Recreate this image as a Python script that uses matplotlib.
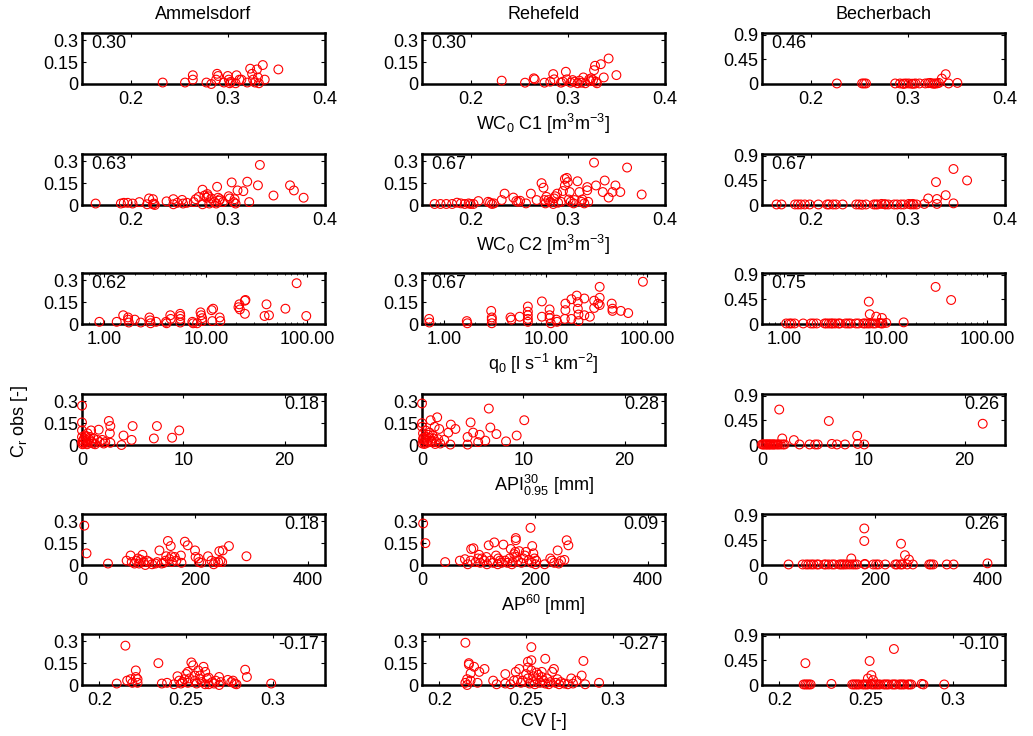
import matplotlib
matplotlib.use('Agg')
import matplotlib.pyplot as plt
from matplotlib.ticker import FixedLocator, FixedFormatter, LogLocator, NullFormatter

plt.rcParams['font.family'] = ['Liberation Sans', 'DejaVu Sans']
plt.rcParams['mathtext.fontset'] = 'custom'
plt.rcParams['mathtext.rm'] = 'Liberation Sans'
plt.rcParams['mathtext.it'] = 'Liberation Sans'
plt.rcParams['mathtext.default'] = 'regular'

# ---------------- data ----------------
catchments = ['Ammelsdorf', 'Rehefeld', 'Becherbach']
predictor_labels = [r'WC$_0$ C1 [m$^3$m$^{-3}$]', r'WC$_0$ C2 [m$^3$m$^{-3}$]',
                    r'q$_0$ [l s$^{-1}$ km$^{-2}$]', r'API$^{30}_{0.95}$ [mm]',
                    r'AP$^{60}$ [mm]', 'CV [-]']
corr_amm = ['0.30', '0.63', '0.62', '0.18', '0.18', '-0.17']
corr_reh = ['0.30', '0.67', '0.67', '0.28', '0.09', '-0.27']
corr_bec = ['0.46', '0.67', '0.75', '0.26', '0.26', '-0.10']
ylabel_text = r'C$_r$ obs [-]'

yticks_small = [0, 0.15, 0.3]
yticklabels_small = ['0', '0.15', '0.3']
yticks_large = [0, 0.45, 0.9]
yticklabels_large = ['0', '0.45', '0.9']

xticks_wc = [0.2, 0.3, 0.4]
xticklabels_wc = ['0.2', '0.3', '0.4']
xticks_q = [1, 10, 100]
xticklabels_q = ['1.00', '10.00', '100.00']
xticks_api = [0, 10, 20]
xticklabels_api = ['0', '10', '20']
xticks_ap = [0, 200, 400]
xticklabels_ap = ['0', '200', '400']
xticks_cv = [0.2, 0.25, 0.3]
xticklabels_cv = ['0.2', '0.25', '0.3']

# Ammelsdorf
amm_wc1_x = [0.233,0.256,0.264,0.264,0.278,0.283,0.288,0.289,0.290,0.296,0.300,0.301,0.302,0.303,0.308,0.309,0.312,0.314,0.320,0.323,0.325,0.326,0.328,0.330,0.331,0.332,0.336,0.338,0.352]
amm_wc1_y = [0.01,0.01,0.06,0.03,0.01,0.0,0.03,0.07,0.055,0.01,0.055,0.03,0.005,0.015,0.005,0.06,0.03,0.03,0.01,0.105,0.07,0.03,0.01,0.10,0.045,0.005,0.13,0.03,0.10]
amm_wc2_x = [0.164,0.19,0.193,0.197,0.202,0.209,0.217,0.219,0.223,0.223,0.224,0.225,0.237,0.244,0.244,0.248,0.253,0.254,0.258,0.265,0.267,0.27,0.274,0.274,0.276,0.278,0.279,0.28,0.281,0.283,0.286,0.288,0.289,0.29,0.291,0.292,0.295,0.301,0.302,0.304,0.306,0.307,0.308,0.31,0.316,0.32,0.322,0.331,0.333,0.347,0.364,0.368,0.378]
amm_wc2_y = [0.01,0.01,0.015,0.015,0.01,0.02,0.005,0.045,0.005,0.04,0.01,0.0,0.025,0.005,0.04,0.015,0.035,0.01,0.015,0.02,0.04,0.055,0.105,0.005,0.065,0.05,0.075,0.06,0.01,0.045,0.02,0.01,0.125,0.05,0.03,0.04,0.02,0.06,0.045,0.155,0.02,0.04,0.01,0.10,0.095,0.16,0.02,0.135,0.275,0.065,0.135,0.10,0.05]
amm_q_x = [0.89,1.32,1.53,1.71,1.71,1.74,1.99,2.28,2.78,2.82,2.85,3.23,4.05,4.1,4.46,4.5,5.58,5.6,5.6,5.6,7.36,7.5,8.2,8.87,9.0,9.2,9.2,11.4,11.8,11.6,13.7,13.9,21.0,21.4,21.7,24.3,24.6,24.3,38.0,39.7,42.0,61.0,78.7,98.0]
amm_q_y = [0.015,0.015,0.06,0.045,0.03,0.01,0.03,0.01,0.045,0.025,0.005,0.015,0.015,0.005,0.06,0.035,0.07,0.055,0.035,0.01,0.015,0.005,0.005,0.08,0.06,0.04,0.02,0.095,0.105,0.02,0.045,0.02,0.115,0.135,0.1,0.16,0.165,0.07,0.055,0.135,0.06,0.105,0.28,0.055]
amm_api_x = [0,0,0,0,0,0.15,0.3,0.4,0.55,0.65,0.8,0.9,1.0,1.15,1.3,1.5,1.65,1.75,2.0,2.15,2.3,2.65,2.8,2.75,2.8,3.9,4.1,4.9,5.0,7.1,7.4,8.9,9.6,0.05,0.1,0.2,0.35,0.5,0.7,1.1,0.45]
amm_api_y = [0.27,0.155,0.1,0.055,0.02,0.01,0.065,0.035,0.08,0.015,0.055,0.1,0.02,0.045,0.005,0.035,0.105,0.02,0.035,0.01,0.02,0.165,0.13,0.08,0.015,0.0,0.065,0.035,0.13,0.045,0.13,0.05,0.1,0.005,0.03,0.045,0.02,0.005,0.04,0.01,0.06]
amm_ap_x = [4,8,46,79,86,88,93,96,99,101,104,107,109,112,115,119,124,130,133,137,141,145,148,149,152,155,157,158,159,164,167,175,176,182,187,200,201,206,207,211,223,229,233,236,241,243,245,248,249,260,291]
amm_ap_y = [0.27,0.08,0.01,0.03,0.065,0.02,0.01,0.03,0.045,0.01,0.035,0.07,0.02,0.0,0.03,0.02,0.005,0.01,0.02,0.1,0.01,0.015,0.03,0.06,0.165,0.04,0.13,0.06,0.02,0.055,0.03,0.065,0.015,0.16,0.135,0.1,0.055,0.045,0.02,0.015,0.06,0.03,0.005,0.02,0.02,0.095,0.03,0.02,0.1,0.13,0.06]
amm_cv_x = [0.21,0.215,0.216,0.218,0.219,0.221,0.221,0.222,0.222,0.234,0.236,0.239,0.243,0.245,0.246,0.247,0.248,0.249,0.25,0.251,0.251,0.252,0.253,0.254,0.255,0.255,0.256,0.257,0.258,0.258,0.259,0.26,0.261,0.261,0.262,0.263,0.263,0.265,0.266,0.267,0.269,0.269,0.27,0.274,0.276,0.277,0.278,0.279,0.284,0.285,0.299]
amm_cv_y = [0.01,0.27,0.03,0.04,0.015,0.1,0.055,0.04,0.015,0.15,0.01,0.015,0.005,0.06,0.03,0.01,0.02,0.04,0.075,0.015,0.09,0.045,0.155,0.135,0.03,0.065,0.01,0.1,0.04,0.065,0.02,0.125,0.09,0.005,0.045,0.005,0.05,0.02,0.01,0.03,0.0,0.055,0.02,0.035,0.02,0.03,0.01,0.005,0.105,0.055,0.01]

# Rehefeld
reh_wc1_x = [0.232,0.256,0.265,0.266,0.276,0.282,0.285,0.286,0.293,0.295,0.298,0.299,0.303,0.305,0.307,0.310,0.312,0.314,0.316,0.318,0.322,0.323,0.324,0.326,0.327,0.329,0.330,0.328,0.334,0.337,0.342,0.350]
reh_wc1_y = [0.023,0.009,0.039,0.032,0.009,0.016,0.068,0.032,0.009,0.016,0.084,0.032,0.009,0.027,0.016,0.005,0.023,0.009,0.045,0.005,0.032,0.02,0.039,0.027,0.095,0.016,0.005,0.125,0.136,0.045,0.175,0.061]
reh_wc2_x = [0.163,0.169,0.175,0.181,0.186,0.19,0.194,0.198,0.2,0.203,0.208,0.218,0.22,0.222,0.224,0.232,0.235,0.244,0.247,0.249,0.251,0.257,0.262,0.268,0.273,0.275,0.276,0.277,0.278,0.28,0.282,0.285,0.286,0.287,0.289,0.29,0.293,0.295,0.297,0.297,0.299,0.3,0.301,0.302,0.303,0.306,0.307,0.31,0.312,0.314,0.315,0.317,0.32,0.32,0.321,0.327,0.329,0.336,0.338,0.342,0.346,0.349,0.354,0.361,0.376]
reh_wc2_y = [0.007,0.007,0.007,0.007,0.016,0.011,0.007,0.011,0.007,0.007,0.027,0.022,0.016,0.007,0.011,0.034,0.078,0.051,0.027,0.022,0.029,0.011,0.078,0.034,0.15,0.119,0.034,0.011,0.056,0.034,0.022,0.007,0.045,0.06,0.078,0.016,0.022,0.096,0.134,0.179,0.186,0.157,0.038,0.089,0.022,0.011,0.034,0.163,0.089,0.022,0.038,0.011,0.123,0.101,0.022,0.291,0.134,0.089,0.168,0.051,0.089,0.134,0.089,0.257,0.072]
reh_q_x = [0.705,0.71,1.66,1.68,2.89,2.93,2.93,2.93,4.48,4.58,5.52,6.65,6.65,6.65,6.65,6.65,9.15,9.15,10.9,10.9,10.9,11.2,12.7,12.9,15.4,15.6,15.6,17.9,17.9,20.2,20.7,20.7,21.0,21.0,24.0,24.0,27.2,30.0,30.0,32.8,34.0,34.0,34.0,44.7,45.5,45.5,55.0,65.0,90.8]
reh_q_y = [0.035,0.01,0.02,0.005,0.09,0.045,0.03,0.005,0.045,0.03,0.05,0.12,0.085,0.06,0.035,0.015,0.155,0.05,0.10,0.06,0.04,0.005,0.03,0.015,0.035,0.14,0.095,0.035,0.17,0.195,0.15,0.105,0.065,0.02,0.06,0.175,0.05,0.16,0.11,0.14,0.255,0.18,0.13,0.14,0.105,0.09,0.09,0.075,0.29]
reh_api_x = [0,0,0,0.1,0.1,0.2,0.25,0.4,0.6,0.75,0.85,1.0,1.05,1.25,1.3,1.5,1.6,1.7,1.8,2.2,2.6,2.8,2.85,3.3,4.5,4.5,4.8,5.05,5.55,5.7,6.25,6.6,6.75,7.35,8.3,9.35,10.1,0.05,0.15,0.3,0.5,0.7,0.9,1.15,1.4,0.35,0.6]
reh_api_y = [0.285,0.15,0.125,0.08,0.04,0.02,0.007,0.055,0.03,0.085,0.17,0.02,0.065,0.125,0.007,0.19,0.04,0.11,0.01,0.035,0.085,0.003,0.14,0.11,0.055,0.003,0.155,0.085,0.02,0.07,0.03,0.25,0.12,0.075,0.025,0.065,0.17,0.01,0.05,0.035,0.015,0.05,0.03,0.045,0.02,0.1,0.07]
reh_ap_x = [2,6,41,67,76,81,86,87,91,95,99,101,103,106,110,114,115,118,121,126,128,131,134,135,138,141,144,147,151,155,157,159,160,163,165,166,166,167,170,172,176,179,182,184,189,192,194,195,197,199,201,202,217,227,230,234,240,242,246,252,256,259]
reh_ap_y = [0.285,0.15,0.02,0.03,0.04,0.005,0.03,0.11,0.115,0.02,0.045,0.07,0.015,0.045,0.03,0.055,0.005,0.135,0.03,0.015,0.155,0.065,0.005,0.045,0.03,0.015,0.14,0.03,0.015,0.045,0.11,0.005,0.02,0.075,0.09,0.185,0.17,0.055,0.03,0.095,0.015,0.045,0.065,0.09,0.035,0.255,0.015,0.13,0.08,0.045,0.005,0.03,0.005,0.045,0.03,0.015,0.1,0.01,0.03,0.035,0.17,0.135]
reh_cv_x = [0.215,0.215,0.216,0.216,0.217,0.217,0.218,0.218,0.22,0.222,0.223,0.226,0.231,0.233,0.238,0.238,0.241,0.243,0.244,0.245,0.246,0.247,0.248,0.25,0.251,0.251,0.251,0.252,0.253,0.253,0.253,0.254,0.254,0.255,0.256,0.256,0.257,0.258,0.259,0.259,0.26,0.261,0.261,0.262,0.263,0.264,0.265,0.266,0.267,0.268,0.269,0.27,0.272,0.274,0.276,0.277,0.279,0.282,0.283,0.284,0.292]
reh_cv_y = [0.29,0.015,0.0,0.04,0.15,0.14,0.08,0.03,0.125,0.015,0.09,0.11,0.03,0.005,0.075,0.01,0.005,0.03,0.09,0.035,0.11,0.015,0.03,0.075,0.16,0.12,0.045,0.01,0.26,0.17,0.1,0.06,0.02,0.005,0.085,0.04,0.07,0.015,0.055,0.09,0.03,0.18,0.01,0.045,0.005,0.02,0.09,0.11,0.015,0.04,0.005,0.02,0.01,0.005,0.045,0.01,0.03,0.065,0.165,0.005,0.015]

# Becherbach
bec_wc1_x = [0.227,0.253,0.255,0.257,0.287,0.292,0.295,0.298,0.301,0.304,0.308,0.312,0.318,0.323,0.325,0.327,0.330,0.332,0.335,0.339,0.342,0.351,0.296,0.306,0.321,0.328]
bec_wc1_y = [0.01,0.01,0.01,0.01,0.01,0.01,0.005,0.01,0.01,0.005,0.01,0.01,0.01,0.02,0.01,0.005,0.01,0.02,0.10,0.18,0.01,0.02,0.005,0.005,0.015,0.01]
bec_wc2_x = [0.165,0.17,0.184,0.187,0.19,0.194,0.199,0.208,0.217,0.219,0.223,0.226,0.233,0.247,0.25,0.253,0.257,0.265,0.267,0.269,0.273,0.276,0.277,0.28,0.286,0.289,0.293,0.296,0.301,0.303,0.305,0.306,0.309,0.317,0.321,0.329,0.33,0.33,0.339,0.347,0.347,0.361]
bec_wc2_y = [0.01,0.01,0.01,0.01,0.01,0.01,0.01,0.01,0.01,0.01,0.01,0.01,0.01,0.01,0.01,0.005,0.01,0.01,0.01,0.01,0.02,0.015,0.01,0.01,0.01,0.01,0.01,0.01,0.02,0.01,0.02,0.01,0.01,0.02,0.12,0.42,0.11,0.02,0.18,0.66,0.03,0.45]
bec_q_x = [1.04,1.12,1.17,1.26,1.53,1.82,1.93,2.08,2.49,2.59,2.74,2.89,2.99,3.17,3.41,3.52,4.01,4.25,4.48,5.07,5.37,6.0,6.22,6.59,6.94,7.46,7.86,8.64,8.96,9.29,10.1,15.0,6.79,6.94,8.04,9.16,31.0,44.1]
bec_q_y = [0.01,0.01,0.01,0.01,0.01,0.01,0.01,0.01,0.01,0.01,0.01,0.01,0.01,0.01,0.01,0.01,0.01,0.01,0.01,0.01,0.01,0.01,0.01,0.01,0.01,0.01,0.01,0.02,0.01,0.01,0.02,0.03,0.41,0.18,0.135,0.11,0.68,0.44]
bec_api_x = [0,0.2,0.33,0.52,0.66,0.85,0.98,1.18,1.31,1.51,1.64,1.84,2.07,2.23,0.1,0.45,0.75,1.1,1.7,2.0,3.15,3.7,4.7,5.25,5.5,6.6,6.9,7.4,8.2,9.4,9.45,10.1,21.8]
bec_api_y = [0.01,0.01,0.01,0.01,0.01,0.01,0.01,0.01,0.01,0.01,0.01,0.01,0.01,0.01,0.01,0.01,0.01,0.01,0.65,0.12,0.09,0.01,0.01,0.01,0.01,0.44,0.02,0.01,0.01,0.17,0.02,0.01,0.39]
bec_ap_x = [47,72,78,82,87,91,97,100,110,113,118,124,128,137,140,143,146,150,155,160,164,168,182,197,202,206,218,236,239,245,248,257,267,296,299,303,327,339,399,158,181,181,182,246,253,260]
bec_ap_y = [0.01,0.01,0.01,0.01,0.01,0.01,0.01,0.01,0.01,0.01,0.01,0.01,0.01,0.01,0.01,0.01,0.01,0.01,0.01,0.01,0.01,0.01,0.01,0.01,0.01,0.01,0.01,0.01,0.01,0.01,0.01,0.01,0.01,0.01,0.01,0.01,0.01,0.01,0.03,0.12,0.67,0.44,0.02,0.39,0.18,0.1]
bec_cv_x = [0.214,0.215,0.216,0.217,0.218,0.23,0.242,0.243,0.244,0.245,0.246,0.248,0.249,0.25,0.251,0.253,0.254,0.255,0.256,0.257,0.258,0.26,0.261,0.262,0.263,0.265,0.266,0.267,0.269,0.27,0.271,0.272,0.274,0.275,0.276,0.282,0.283,0.295,0.215,0.252,0.253,0.251,0.254,0.266]
bec_cv_y = [0.01,0.01,0.01,0.01,0.01,0.02,0.01,0.01,0.01,0.01,0.01,0.01,0.01,0.01,0.01,0.01,0.01,0.01,0.01,0.01,0.01,0.01,0.01,0.01,0.01,0.01,0.01,0.01,0.01,0.01,0.01,0.01,0.01,0.01,0.01,0.02,0.01,0.01,0.40,0.44,0.18,0.12,0.09,0.66]

# ---------------- assembly ----------------
series = [
    [(amm_wc1_x, amm_wc1_y), (reh_wc1_x, reh_wc1_y), (bec_wc1_x, bec_wc1_y)],
    [(amm_wc2_x, amm_wc2_y), (reh_wc2_x, reh_wc2_y), (bec_wc2_x, bec_wc2_y)],
    [(amm_q_x, amm_q_y), (reh_q_x, reh_q_y), (bec_q_x, bec_q_y)],
    [(amm_api_x, amm_api_y), (reh_api_x, reh_api_y), (bec_api_x, bec_api_y)],
    [(amm_ap_x, amm_ap_y), (reh_ap_x, reh_ap_y), (bec_ap_x, bec_ap_y)],
    [(amm_cv_x, amm_cv_y), (reh_cv_x, reh_cv_y), (bec_cv_x, bec_cv_y)],
]
corrs = [corr_amm, corr_reh, corr_bec]
row_xticks = [(xticks_wc, xticklabels_wc), (xticks_wc, xticklabels_wc), (xticks_q, xticklabels_q),
              (xticks_api, xticklabels_api), (xticks_ap, xticklabels_ap), (xticks_cv, xticklabels_cv)]
row_xlim = [(0.15, 0.4), (0.15, 0.4), (0.6, 150), (0, 24), (0, 430), (0.19, 0.33)]

W, H = 1033, 736
fig = plt.figure(figsize=(W / 100, H / 100), dpi=100)
col_left_px = [82, 422, 762]
row_top_px = [33, 154, 273, 394, 514, 634]
ax_w_px, ax_h_px = 243, 51
FS = 13

for r in range(6):
    for c in range(3):
        l = col_left_px[c] / W
        b = 1 - (row_top_px[r] + ax_h_px) / H
        ax = fig.add_axes([l, b, ax_w_px / W, ax_h_px / H])
        xs, ys = series[r][c]
        ax.scatter(xs, ys, s=40, facecolors='none', edgecolors='red', linewidths=0.8, clip_on=False, zorder=3)
        if r == 2:
            ax.set_xscale('log')
            ax.xaxis.set_minor_locator(LogLocator(base=10, subs=range(2, 10)))
            ax.xaxis.set_minor_formatter(NullFormatter())
        ax.set_xlim(*row_xlim[r])
        ax.xaxis.set_major_locator(FixedLocator(row_xticks[r][0]))
        ax.xaxis.set_major_formatter(FixedFormatter(row_xticks[r][1]))
        if c == 2:
            ax.set_ylim(0, 0.935)
            ax.set_yticks(yticks_large)
            ax.set_yticklabels(yticklabels_large)
        else:
            ax.set_ylim(0, 0.35)
            ax.set_yticks(yticks_small)
            ax.set_yticklabels(yticklabels_small)
        ax.tick_params(which='major', direction='in', top=True, right=True, length=3, width=0.8,
                       labelsize=FS)
        ax.tick_params(axis='y', which='major', pad=2.5)
        ax.tick_params(axis='x', which='major', pad=5)
        ax.tick_params(which='minor', direction='in', top=True, right=True, length=1.5, width=0.6)
        for sp in ax.spines.values():
            sp.set_linewidth(1.8)
        if r < 3:
            ax.text(0.04, 0.96, corrs[c][r], transform=ax.transAxes, ha='left', va='top', fontsize=FS)
        else:
            ax.text(0.975, 0.96, corrs[c][r], transform=ax.transAxes, ha='right', va='top', fontsize=FS)
        if c == 1:
            ax.set_xlabel(predictor_labels[r], fontsize=FS, labelpad=3)
        if r == 0:
            ax.set_title(catchments[c], fontsize=FS, pad=10)

fig.text(19 / W, 1 - 421 / H, ylabel_text, rotation=90, ha='center', va='center', fontsize=FS)
fig.savefig('out.png', dpi=100)
